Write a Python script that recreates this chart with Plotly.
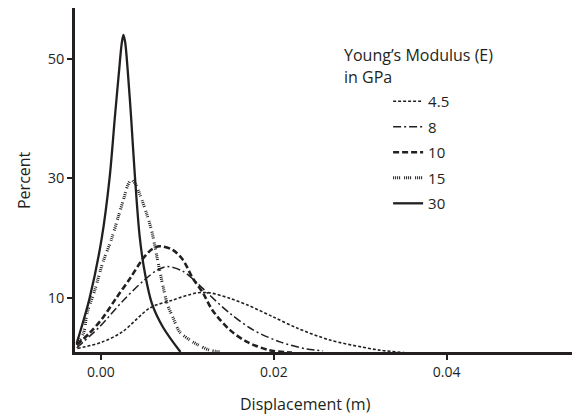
import plotly.graph_objects as go

# ---- data ----
names = ["4.5", "8", "10", "15", "30"]

x_45 = [-0.0027, 0.0002, 0.0025, 0.0057, 0.0083, 0.0111, 0.0126, 0.0149, 0.0169, 0.0199, 0.0227, 0.0265, 0.0303, 0.0323, 0.0351]
y_45 = [1.5, 2.6, 4.3, 8.3, 9.6, 10.8, 10.8, 9.9, 8.8, 6.8, 4.9, 2.9, 1.7, 1.2, 0.8]

x_8 = [-0.0028, -0.0001, 0.0025, 0.0049, 0.0065, 0.0077, 0.0095, 0.0111, 0.0123, 0.0149, 0.0176, 0.0207, 0.0238, 0.0257]
y_8 = [1.6, 5.2, 9.4, 12.8, 14.6, 15.2, 14.4, 12.5, 10.8, 7.4, 4.6, 2.6, 1.4, 1.1]

x_10 = [-0.0028, -0.0013, 0.0002, 0.0018, 0.0034, 0.0049, 0.0059, 0.0068, 0.0083, 0.0095, 0.0106, 0.0118, 0.0129, 0.0149, 0.0169, 0.0195, 0.0221]
y_10 = [2.1, 4.1, 6.6, 10.0, 13.3, 16.6, 18.1, 18.6, 18.0, 16.3, 13.3, 10.8, 7.9, 4.6, 2.6, 1.2, 0.8]

x_15 = [-0.0028, -0.0020, -0.0016, -0.0007, 0.0002, 0.0012, 0.0020, 0.0026, 0.0031, 0.0035, 0.0040, 0.0045, 0.0053, 0.0059, 0.0065, 0.0072, 0.0077, 0.0083, 0.0091, 0.0103, 0.0111, 0.0126, 0.0140]
y_15 = [2.1, 4.1, 7.4, 11.3, 15.8, 19.7, 23.5, 26.4, 28.8, 29.7, 29.0, 27.3, 24.0, 21.0, 16.7, 11.8, 8.8, 6.8, 4.3, 2.9, 2.2, 1.2, 0.9]

x_30 = [-0.0028, -0.0013, 0.0001, 0.0010, 0.0016, 0.0021, 0.0024, 0.0026, 0.0028, 0.0031, 0.0035, 0.0039, 0.0045, 0.0051, 0.0059, 0.0072, 0.0092]
y_30 = [2.4, 10, 20, 30, 40, 48, 52.5, 54, 52.8, 48, 40, 31, 20, 14, 9, 5, 0.9]

x_ticks = [0.00, 0.02, 0.04]
x_ticklabels = ["0.00", "0.02", "0.04"]
y_ticks = [10, 30, 50]

INK = "#231f20"
FONT = "Open Sans, Noto Sans, sans-serif"

styles = [
    dict(width=1.6, dash="3px,2px"),
    dict(width=1.5, dash="8px,3px,2px,3px"),
    dict(width=2.6, dash="6px,3px"),
    dict(width=3.0, dash="1px,1px,1px,1px,1px,1px,1px,4px"),
    dict(width=2.3, dash="solid"),
]
series = [(x_45, y_45), (x_8, y_8), (x_10, y_10), (x_15, y_15), (x_30, y_30)]

fig = go.Figure()
for name, (xs, ys), st in zip(names, series, styles):
    fig.add_trace(go.Scatter(
        x=xs, y=ys, mode="lines", name=name, legendgroup=name,
        line=dict(color=INK, width=st["width"], dash=st["dash"], shape="spline", smoothing=0.9),
    ))

fig.update_layout(
    width=572, height=416,
    margin=dict(l=75, r=0, t=8, b=64),
    paper_bgcolor="white", plot_bgcolor="white",
    font=dict(family=FONT, color=INK, size=14),
    showlegend=True,
    legend=dict(
        x=0.630, y=0.776, xanchor="left", yanchor="top",
        font=dict(size=15, color=INK, family=FONT),
        traceorder="grouped", tracegroupgap=3,
        bgcolor="rgba(0,0,0,0)", borderwidth=0,
    ),
    xaxis=dict(
        range=[-0.003, 0.0545], showgrid=False, zeroline=False,
        showline=True, linecolor=INK, linewidth=2.5,
        ticks="outside", ticklen=5, tickwidth=2, tickcolor=INK,
        tickvals=x_ticks, ticktext=x_ticklabels,
        tickfont=dict(size=14, color=INK, family=FONT),
    ),
    yaxis=dict(
        range=[0.9, 58.5], showgrid=False, zeroline=False,
        showline=True, linecolor=INK, linewidth=2.5,
        ticks="outside", ticklen=5, tickwidth=2, tickcolor=INK,
        tickvals=y_ticks,
        tickfont=dict(size=14.5, color=INK, family=FONT),
    ),
    annotations=[
        dict(text="Percent", xref="paper", yref="paper", x=-0.1026, y=0.5,
             xanchor="center", yanchor="middle", textangle=-90, showarrow=False,
             font=dict(size=16, color=INK, family=FONT)),
        dict(text="Displacement (m)", xref="paper", yref="paper", x=0.4628, y=-0.151,
             xanchor="center", yanchor="middle", showarrow=False,
             font=dict(size=16, color=INK, family=FONT)),
        dict(text="Young’s Modulus (E)", xref="paper", yref="paper", x=0.537, y=0.8634,
             xanchor="left", yanchor="middle", showarrow=False,
             font=dict(size=16, color=INK, family=FONT)),
        dict(text="in GPa", xref="paper", yref="paper", x=0.537, y=0.7994,
             xanchor="left", yanchor="middle", showarrow=False,
             font=dict(size=16, color=INK, family=FONT)),
    ],
)

fig.write_html("out.html")
